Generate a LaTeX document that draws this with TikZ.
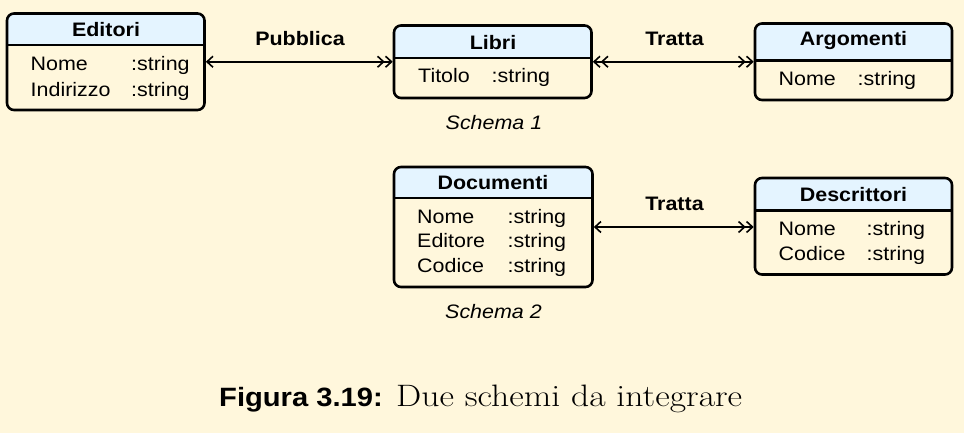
\documentclass[tikz,border=0pt]{standalone}
\usepackage{fontspec}
\setsansfont{Liberation Sans}[FakeStretch=1.1]
\newfontfamily\capserif{Latin Modern Roman}[FakeStretch=1.15]
\usetikzlibrary{arrows.meta}
\definecolor{bgcream}{RGB}{255,247,220}
\definecolor{headblue}{RGB}{228,244,255}
\tikzset{
  sb/.tip={Straight Barb[length=6pt,width=11pt]},
  rel/.style={line width=1.6pt, shorten <=1.3pt, shorten >=1.3pt},
  boxline/.style={line width=2.6pt, rounded corners=7pt},
  sepline/.style={line width=2.4pt},
  rowtext/.style={font=\sffamily\fontsize{19.5}{23}\selectfont, inner sep=0pt, anchor=base west},
  hdr/.style={font=\sffamily\bfseries\fontsize{19.5}{23}\selectfont, inner sep=0pt, anchor=base},
  schema/.style={font=\sffamily\itshape\fontsize{19.5}{23}\selectfont, inner sep=0pt, anchor=base},
  boxarea/.style={inner sep=0pt, outer sep=0pt, fill=bgcream, anchor=north west},
}
\newcommand\umlbox[6]{%
  \node[boxarea, minimum width={#4-#2}, minimum height={#5-#3}] (#1) at (#2,#3) {};
  \begin{scope}
    \clip[rounded corners=7pt] (#1.north west) rectangle (#1.south east);
    \fill[headblue] (#1.north west) rectangle (#4,#6);
  \end{scope}
  \draw[sepline] (#2,#6) -- (#4,#6);
  \draw[boxline] (#1.north west) rectangle (#1.south east);
}
\begin{document}
\begin{tikzpicture}[x=1pt,y=-1pt]
\fill[bgcream] (0,0) rectangle (964,433);
\useasboundingbox (0,0) rectangle (964,433);

% boxes
\umlbox{ed}{7}{13.5}{204.5}{110}{45}
\umlbox{li}{394}{25.5}{591.5}{98}{58}
\umlbox{ar}{755}{23.5}{952}{100}{60.5}
\umlbox{do}{394}{167}{592.5}{287}{198}
\umlbox{de}{755}{178}{952}{274.5}{210.5}

% Editori
\node[hdr] (edh) at (106,36.7) {Editori};
\node[rowtext] (ed1a) at (30.5,70.7) {Nome};
\node[rowtext] (ed1b) at (131,70.7) {:string};
\node[rowtext] (ed2a) at (30.5,96.7) {Indirizzo};
\node[rowtext] (ed2b) at (131,96.7) {:string};

% Libri
\node[hdr] (lih) at (493,49.3) {Libri};
\node[rowtext] (li1a) at (418,82.7) {Titolo};
\node[rowtext] (li1b) at (491.5,82.7) {:string};

% Argomenti
\node[hdr] (arh) at (853.5,46) {Argomenti};
\node[rowtext] (ar1a) at (778.5,86) {Nome};
\node[rowtext] (ar1b) at (857.5,86) {:string};

% Documenti
\node[hdr] (doh) at (493,189.3) {Documenti};
\node[rowtext] (do1a) at (417,223.3) {Nome};
\node[rowtext] (do1b) at (507.5,223.3) {:string};
\node[rowtext] (do2a) at (417,247.7) {Editore};
\node[rowtext] (do2b) at (507.5,247.7) {:string};
\node[rowtext] (do3a) at (417,272.3) {Codice};
\node[rowtext] (do3b) at (507.5,272.3) {:string};

% Descrittori
\node[hdr] (deh) at (853.5,201) {Descrittori};
\node[rowtext] (de1a) at (778.5,235.7) {Nome};
\node[rowtext] (de1b) at (866.5,235.7) {:string};
\node[rowtext] (de2a) at (778.5,260.7) {Codice};
\node[rowtext] (de2b) at (866.5,260.7) {:string};

% relations
\draw[rel, {sb[]}-{sb[]sb[]}] (ed.east) -- (li.west);
\draw[rel, {sb[]sb[]}-{sb[]sb[]}] (li.east) -- (ar.west);
\draw[rel, {sb[]}-{sb[]sb[]}] (do.east) -- (do.east -| de.west);
\node[hdr] (lpub) at (300,45.7) {Pubblica};
\node[hdr] (ltr1) at (674.5,45.7) {Tratta};
\node[hdr] (ltr2) at (674.5,211) {Tratta};

% schema labels
\node[schema] (s1) at (494,129.3) {Schema 1};
\node[schema] (s2) at (493.5,318.3) {Schema 2};

% caption
\node[anchor=base west, inner sep=0pt, font=\sffamily\bfseries\fontsize{26.5}{30}\selectfont] (capa) at (219,406.7) {Figura 3.19:};
\node[anchor=base west, inner sep=0pt, font=\capserif\fontsize{31}{35}\selectfont] (capb) at (396,406.7) {Due schemi da integrare};
\end{tikzpicture}
\end{document}
